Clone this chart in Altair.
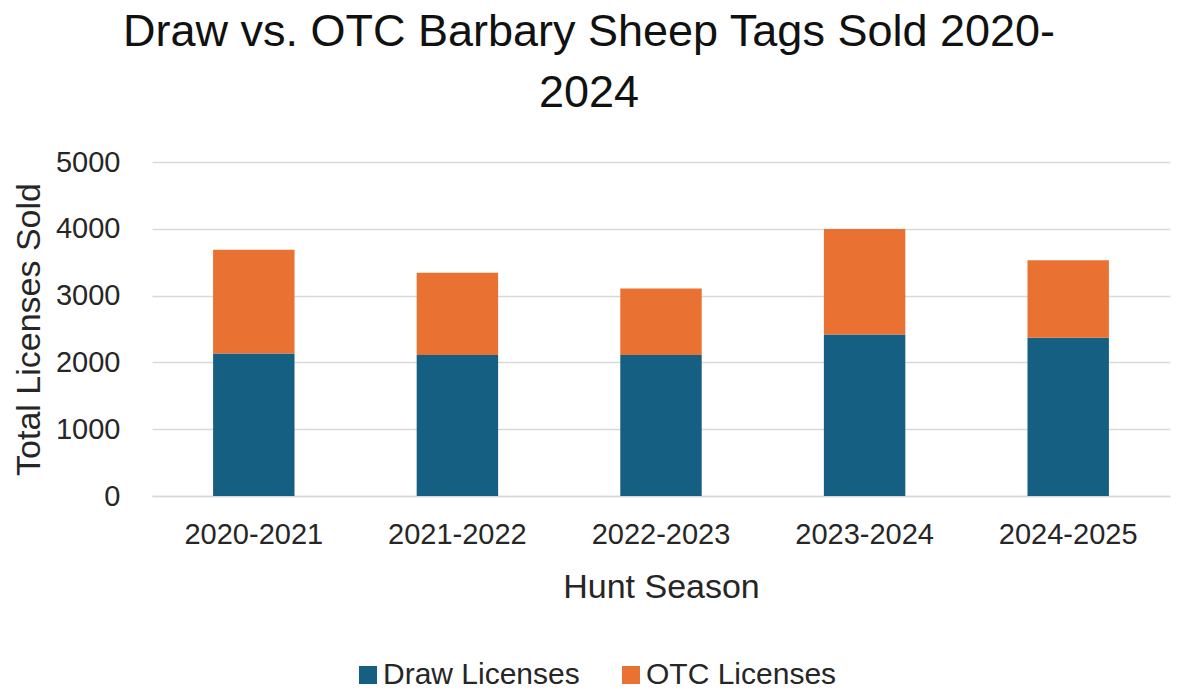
import altair as alt
import pandas as pd

seasons = ["2020-2021", "2021-2022", "2022-2023", "2023-2024", "2024-2025"]
draw = [2134, 2109, 2109, 2418, 2369]
otc = [1554, 1234, 999, 1580, 1159]
series = ["Draw Licenses", "OTC Licenses"]
colors = ["#156082", "#E97132"]

rows = []
for i, s in enumerate(seasons):
    rows.append({"season": s, "series": series[0], "value": draw[i], "ord": 0})
    rows.append({"season": s, "series": series[1], "value": otc[i], "ord": 1})
df = pd.DataFrame(rows)

FONT = "Liberation Sans"
TXT = "#262626"

chart = alt.Chart(df).mark_bar().encode(
    x=alt.X("season:N", sort=seasons, title="Hunt Season",
            scale=alt.Scale(paddingInner=0.6, paddingOuter=0.3),
            axis=alt.Axis(labelAngle=0, labelFontSize=29, titleFontSize=34,
                          labelPadding=24, titlePadding=21, ticks=False,
                          domainColor="#d9d9d9", domainWidth=1.5,
                          labelColor=TXT, titleColor=TXT, titleFontWeight="normal",
                          labelFont=FONT, titleFont=FONT)),
    y=alt.Y("value:Q", title="Total Licenses Sold",
            scale=alt.Scale(domain=[0, 5000], nice=False),
            axis=alt.Axis(values=[0, 1000, 2000, 3000, 4000, 5000], format="d",
                          labelFontSize=29, titleFontSize=34, labelPadding=32,
                          titlePadding=9, ticks=False, domain=False,
                          gridColor="#d9d9d9", gridWidth=1.5,
                          labelColor=TXT, titleColor=TXT, titleFontWeight="normal",
                          labelFont=FONT, titleFont=FONT)),
    color=alt.Color("series:N", scale=alt.Scale(domain=series, range=colors),
                    legend=alt.Legend(title=None, orient="none", direction="horizontal",
                                      legendX=201, legendY=498, symbolType="square",
                                      symbolSize=324, labelFontSize=30, labelFont=FONT,
                                      labelColor=TXT, columnPadding=36, labelOffset=0,
                                      labelLimit=400, padding=0,
                                      symbolOpacity=1, symbolStrokeWidth=0)),
    order=alt.Order("ord:Q", sort="ascending"),
).properties(
    width=1018,
    height=334,
    autosize=alt.AutoSizeParams(type="none"),
    padding={"left": 144, "top": 154, "right": 2, "bottom": 190},
    title=alt.TitleParams(
        text=["Draw vs. OTC Barbary Sheep Tags Sold 2020-", "2024"],
        fontSize=45, font=FONT, fontWeight="normal", color="#111111",
        anchor="middle", dx=-72, offset=32, lineHeight=61,
    ),
).configure_view(stroke=None)

chart.save("out.html", embed_options={"renderer": "svg", "actions": False})
